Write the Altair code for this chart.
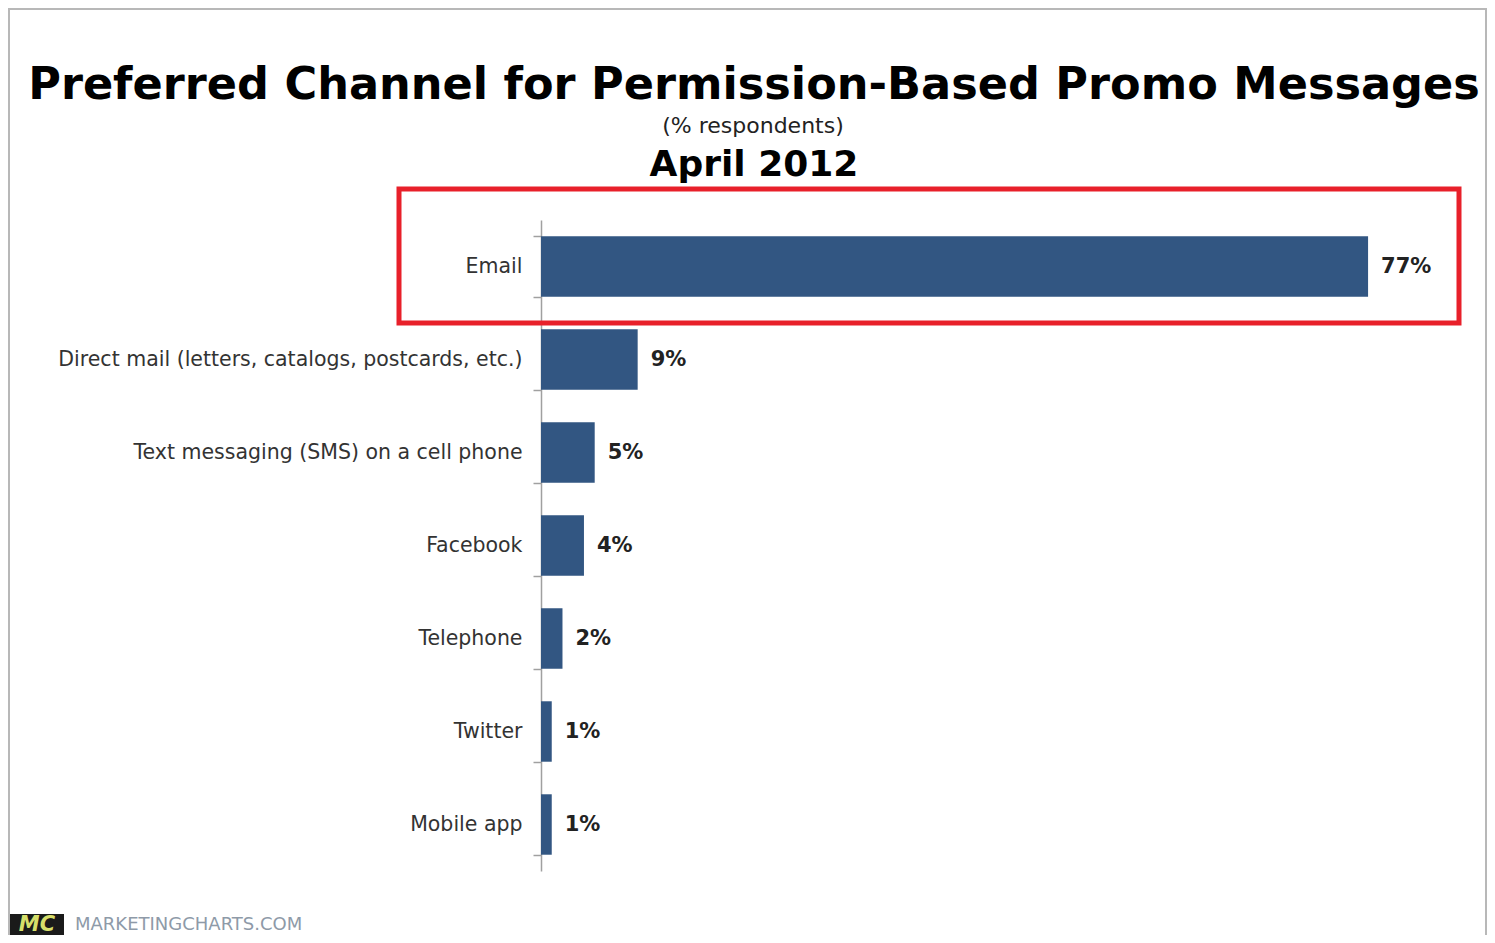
import altair as alt
import pandas as pd

channels = [
    "Email",
    "Direct mail (letters, catalogs, postcards, etc.)",
    "Text messaging (SMS) on a cell phone",
    "Facebook",
    "Telephone",
    "Twitter",
    "Mobile app",
]
shares = [77, 9, 5, 4, 2, 1, 1]
labels = ["77%", "9%", "5%", "4%", "2%", "1%", "1%"]

title_text = "Preferred Channel for Permission-Based Promo Messages"
subtitle_text = "(% respondents)"
date_text = "April 2012"
source_text = "MARKETINGCHARTS.COM"
logo_text = "MC"

df = pd.DataFrame({"channel": channels, "share": shares, "label": labels})
one = alt.Data(values=[{"k": 1}])

FONT = "DejaVu Sans"
W, H = 913, 651

y_enc = alt.Y(
    "channel:N",
    sort=None,
    scale=alt.Scale(paddingInner=0.35, paddingOuter=0.175),
    axis=alt.Axis(
        title=None,
        labelFont=FONT,
        labelFontSize=20.5,
        labelColor="#333333",
        labelPadding=11,
        labelLimit=700,
        domainColor="#a0a0a0",
        domainWidth=1.5,
        tickColor="#a0a0a0",
        tickSize=8,
        tickWidth=1.5,
        tickBand="extent",
        grid=False,
    ),
)
x_enc = alt.X("share:Q", scale=alt.Scale(domain=[0, 85]), axis=None)

bars = alt.Chart(df).mark_bar(color="#325682").encode(x=x_enc, y=y_enc)
vals = alt.Chart(df).mark_text(
    align="left", baseline="middle", dx=13, font=FONT, fontSize=21,
    fontWeight="bold", color="#222222"
).encode(x=x_enc, y=y_enc, text="label:N")

frame = alt.Chart(one).mark_rect(fill=None, stroke="#b8b8b8", strokeWidth=2).encode(
    x=alt.value(-532), x2=alt.value(945), y=alt.value(-211), y2=alt.value(720)
)
redbox = alt.Chart(one).mark_rect(fill=None, stroke="#e8202a", strokeWidth=5).encode(
    x=alt.value(-142), x2=alt.value(918), y=alt.value(-31), y2=alt.value(103)
)
t1 = alt.Chart(one).mark_text(
    text=title_text, font=FONT, fontSize=44.6, fontWeight="bold", color="#000000",
    align="center", baseline="alphabetic"
).encode(x=alt.value(213), y=alt.value(-121))
t2 = alt.Chart(one).mark_text(
    text=subtitle_text, font=FONT, fontSize=22, color="#222222",
    align="center", baseline="alphabetic"
).encode(x=alt.value(212), y=alt.value(-87))
t3 = alt.Chart(one).mark_text(
    text=date_text, font=FONT, fontSize=36, fontWeight="bold", color="#000000",
    align="center", baseline="alphabetic"
).encode(x=alt.value(213), y=alt.value(-44))
logo_box = alt.Chart(one).mark_rect(fill="#1a1a1a").encode(
    x=alt.value(-531), x2=alt.value(-477), y=alt.value(694), y2=alt.value(730)
)
logo = alt.Chart(one).mark_text(
    text=logo_text, font=FONT, fontSize=21, fontWeight="bold", fontStyle="italic",
    color="#d6df6a", align="center", baseline="alphabetic"
).encode(x=alt.value(-504), y=alt.value(711))
source = alt.Chart(one).mark_text(
    text=source_text, font=FONT, fontSize=18, color="#8e9aa8",
    align="left", baseline="alphabetic"
).encode(x=alt.value(-466), y=alt.value(710))

chart = alt.layer(frame, redbox, bars, vals, t1, t2, t3, logo_box, logo, source).properties(
    width=W,
    height=H,
    autosize=alt.AutoSizeParams(type="none"),
    padding={"left": 533, "top": 212, "right": 33, "bottom": 64},
    background="white",
).configure_view(stroke=None)

chart.save("out.html", embed_options={"renderer": "svg", "actions": False})
